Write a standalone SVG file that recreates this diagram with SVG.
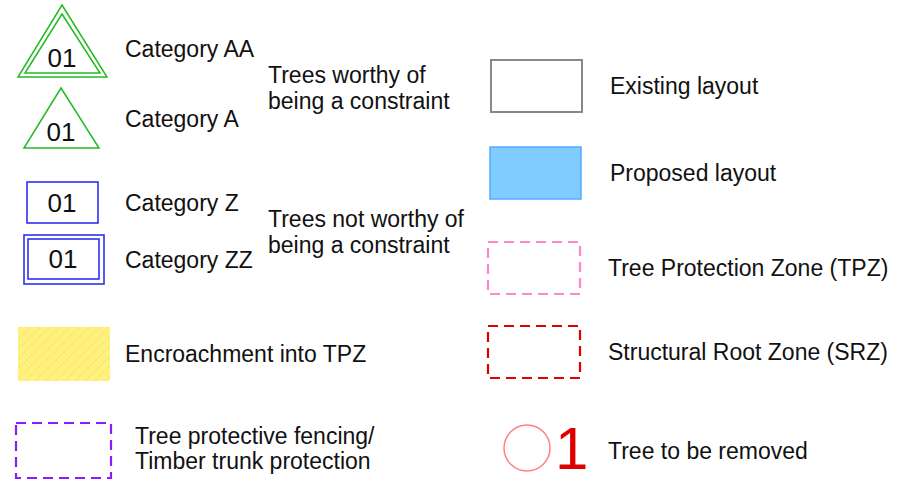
<svg xmlns="http://www.w3.org/2000/svg" width="907" height="484" viewBox="0 0 907 484">
<style>
text{font-family:"Liberation Sans",Arial,sans-serif;font-size:23px;fill:#111}
.num{font-size:26px;text-anchor:middle}
.tri{fill:none;stroke:#22bb22;stroke-width:1.5}
.cat{fill:none;stroke:#2222ee;stroke-width:1.5}
.dash{fill:none;stroke-width:2.2;stroke-dasharray:10 6}
</style>
<defs>
<pattern id="hatch" width="7" height="7" patternUnits="userSpaceOnUse" patternTransform="rotate(45)">
<rect width="7" height="7" fill="#fff27a"/>
<line x1="0" y1="0" x2="0" y2="7" stroke="#f7b98a" stroke-width="1" stroke-dasharray="2 1.5"/>
</pattern>
</defs>
<g id="catAA">
<polygon class="tri" points="62,5 107,77 18,77"/>
<polygon class="tri" points="62,14 100,73 25,73"/>
<text class="num" x="62" y="67">01</text>
<text x="125" y="57">Category AA</text>
</g>
<g id="catA">
<polygon class="tri" points="61,88 99,148 24,148"/>
<text class="num" x="61" y="141">01</text>
<text x="125" y="127">Category A</text>
</g>
<g id="worthy">
<text x="268" y="83">Trees worthy of</text>
<text x="268" y="109">being a constraint</text>
</g>
<g id="catZ">
<rect class="cat" x="27" y="182" width="71" height="41"/>
<text class="num" x="62" y="212">01</text>
<text x="125" y="211">Category Z</text>
</g>
<g id="catZZ">
<rect class="cat" x="24" y="235" width="80" height="49"/>
<rect class="cat" x="28" y="239" width="71" height="40"/>
<text class="num" x="63" y="268">01</text>
<text x="125" y="268">Category ZZ</text>
</g>
<g id="notworthy">
<text x="268" y="227">Trees not worthy of</text>
<text x="268" y="253">being a constraint</text>
</g>
<g id="encroach">
<rect x="18" y="327" width="92" height="54" fill="url(#hatch)"/>
<text x="125" y="362">Encroachment into TPZ</text>
</g>
<g id="fencing">
<rect class="dash" x="16" y="423" width="95" height="55" stroke="#8a1cff" stroke-width="2.5"/>
<text x="135" y="444">Tree protective fencing/</text>
<text x="135" y="469">Timber trunk protection</text>
</g>
<g id="existing">
<rect x="491" y="60" width="91" height="52" fill="none" stroke="#888" stroke-width="2"/>
<text x="610" y="94">Existing layout</text>
</g>
<g id="proposed">
<rect x="490" y="147" width="91" height="52" fill="#80ccff" stroke="#55aaff" stroke-width="1.5"/>
<text x="610" y="181">Proposed layout</text>
</g>
<g id="tpz">
<rect class="dash" x="488" y="242" width="92" height="52" stroke="#ff88c8"/>
<text x="608" y="276">Tree Protection Zone (TPZ)</text>
</g>
<g id="srz">
<rect class="dash" x="488" y="326" width="92" height="52" stroke="#e00000"/>
<text x="608" y="360">Structural Root Zone (SRZ)</text>
</g>
<g id="removed">
<circle cx="527" cy="448" r="23" fill="none" stroke="#ff8080" stroke-width="1.5"/>
<text x="555" y="469" style="font-size:60px;fill:#dd0000">1</text>
<text x="608" y="459">Tree to be removed</text>
</g>
<g id="connectors"/>
</svg>
